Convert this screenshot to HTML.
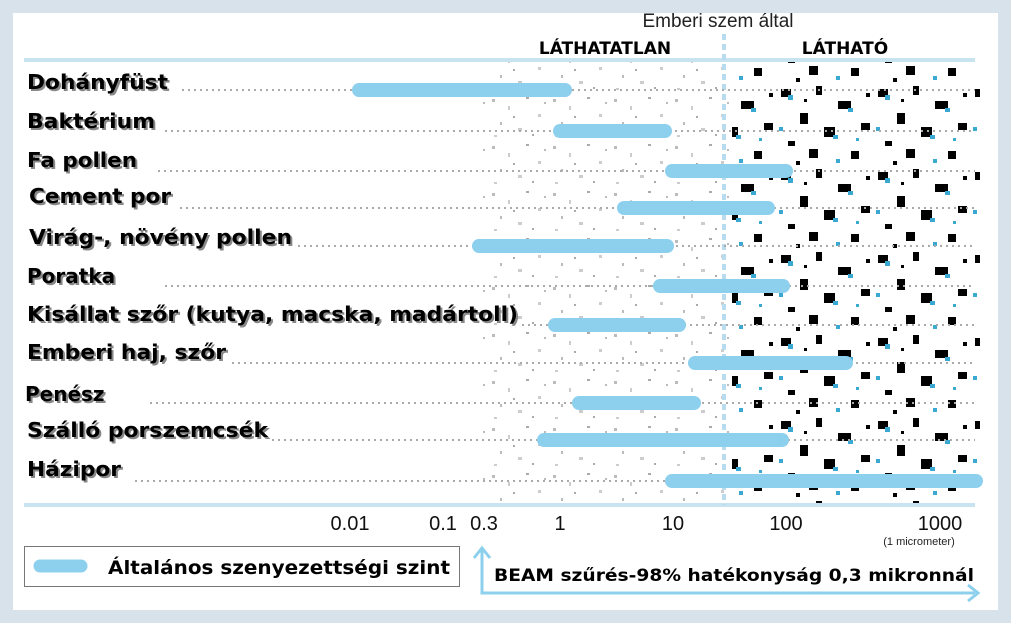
<!DOCTYPE html>
<html><head><meta charset="utf-8"><style>
html,body{margin:0;padding:0;background:#d8e2ea;}
svg{display:block;}
.lab{font-family:"DejaVu Sans",sans-serif;font-weight:bold;font-size:20px;fill:#000;}
.sh{font-family:"DejaVu Sans",sans-serif;font-weight:bold;font-size:20px;fill:#888;}
.tick{font-family:"Liberation Sans",sans-serif;font-size:20px;fill:#111;}
</style></head><body>
<svg width="1011" height="623" viewBox="0 0 1011 623" xmlns="http://www.w3.org/2000/svg">
<defs>
<pattern id="blk" width="97" height="83" patternUnits="userSpaceOnUse">
<rect x="5" y="6" width="10" height="8" fill="#000"/><rect x="12" y="12" width="5" height="5" fill="#3aa8d0"/>
<rect x="40" y="3" width="6" height="9" fill="#000"/><rect x="62" y="18" width="13" height="8" fill="#000"/>
<rect x="72" y="25" width="5" height="4" fill="#3aa8d0"/><rect x="24" y="30" width="8" height="11" fill="#000"/>
<rect x="85" y="40" width="9" height="7" fill="#000"/><rect x="48" y="44" width="11" height="10" fill="#000"/>
<rect x="57" y="52" width="5" height="4" fill="#3aa8d0"/><rect x="12" y="58" width="7" height="5" fill="#000"/>
<rect x="33" y="66" width="9" height="9" fill="#000"/><rect x="75" y="68" width="8" height="8" fill="#000"/>
<rect x="3" y="44" width="4" height="4" fill="#3aa8d0"/><rect x="90" y="10" width="4" height="4" fill="#000"/>
<rect x="60" y="76" width="4" height="4" fill="#3aa8d0"/><rect x="20" y="78" width="4" height="4" fill="#000"/>
<rect x="28" y="16" width="3" height="3" fill="#000"/><rect x="80" y="55" width="3" height="3" fill="#3aa8d0"/>
</pattern>
<pattern id="gry" width="61" height="47" patternUnits="userSpaceOnUse">
<rect x="4" y="5" width="3" height="3" fill="#bbb"/><rect x="20" y="12" width="2" height="4" fill="#ccc"/>
<rect x="38" y="3" width="3" height="2" fill="#aaa"/><rect x="50" y="20" width="3" height="3" fill="#ccc"/>
<rect x="12" y="28" width="2" height="3" fill="#bbb"/><rect x="30" y="34" width="4" height="3" fill="#ccc"/>
<rect x="44" y="40" width="2" height="2" fill="#aaa"/><rect x="6" y="41" width="3" height="2" fill="#ccc"/>
<rect x="56" y="8" width="2" height="2" fill="#bbb"/><rect x="25" y="22" width="2" height="2" fill="#aaa"/>
</pattern>
</defs>
<rect x="13" y="13" width="985" height="597" fill="#fff"/>
<rect x="480" y="62" width="250" height="442" fill="url(#gry)"/>
<rect x="732" y="62" width="248" height="442" fill="url(#blk)"/>
<line x1="24" y1="60" x2="975" y2="60" stroke="#c8e4f0" stroke-width="4"/>
<line x1="24" y1="505" x2="975" y2="505" stroke="#c8e4f0" stroke-width="4"/>
<line x1="724" y1="34" x2="724" y2="505" stroke="#b8dcee" stroke-width="4" stroke-dasharray="6,4"/>
<text x="718" y="27" text-anchor="middle" font-family="Liberation Sans,sans-serif" font-size="19" fill="#222">Emberi szem által</text>
<text x="605" y="54" text-anchor="middle" class="lab" style="font-size:17px">LÁTHATATLAN</text>
<text x="845" y="54" text-anchor="middle" class="lab" style="font-size:17px">LÁTHATÓ</text>
<g stroke="#aaa" stroke-width="2" stroke-dasharray="2,4">
<line x1="182" y1="90" x2="975" y2="90"/><line x1="165" y1="131" x2="975" y2="131"/>
<line x1="158" y1="171" x2="975" y2="171"/><line x1="180" y1="208" x2="975" y2="208"/>
<line x1="298" y1="246" x2="975" y2="246"/><line x1="165" y1="286" x2="975" y2="286"/>
<line x1="522" y1="325" x2="975" y2="325"/><line x1="232" y1="363" x2="975" y2="363"/>
<line x1="150" y1="403" x2="975" y2="403"/><line x1="272" y1="440" x2="975" y2="440"/>
<line x1="135" y1="481" x2="975" y2="481"/>
</g>
<g stroke="#8dd0ee" stroke-width="14" stroke-linecap="round">
<line x1="359" y1="90" x2="565" y2="90"/><line x1="560" y1="131" x2="665" y2="131"/>
<line x1="672" y1="171" x2="786" y2="171"/><line x1="624" y1="208" x2="768" y2="208"/>
<line x1="479" y1="246" x2="667" y2="246"/><line x1="660" y1="286" x2="783" y2="286"/>
<line x1="555" y1="325" x2="679" y2="325"/><line x1="695" y1="363" x2="846" y2="363"/>
<line x1="579" y1="403" x2="694" y2="403"/><line x1="544" y1="440" x2="782" y2="440"/>
<line x1="672" y1="481" x2="976" y2="481"/>
</g>
<g transform="translate(2,2)">
<text class="sh" x="27" y="89" textLength="141" lengthAdjust="spacingAndGlyphs">Dohányfüst</text>
<text class="sh" x="27" y="128" textLength="128" lengthAdjust="spacingAndGlyphs">Baktérium</text>
<text class="sh" x="27" y="167" textLength="110" lengthAdjust="spacingAndGlyphs">Fa pollen</text>
<text class="sh" x="29" y="203" textLength="142" lengthAdjust="spacingAndGlyphs">Cement por</text>
<text class="sh" x="29" y="244" textLength="263" lengthAdjust="spacingAndGlyphs">Virág-, növény pollen</text>
<text class="sh" x="27" y="283">Poratka</text>
<text class="sh" x="27" y="321" textLength="491" lengthAdjust="spacingAndGlyphs">Kisállat szőr (kutya, macska, madártoll)</text>
<text class="sh" x="27" y="359" textLength="199" lengthAdjust="spacingAndGlyphs">Emberi haj, szőr</text>
<text class="sh" x="25" y="401">Penész</text>
<text class="sh" x="27" y="437" textLength="241" lengthAdjust="spacingAndGlyphs">Szálló porszemcsék</text>
<text class="sh" x="27" y="476" textLength="94" lengthAdjust="spacingAndGlyphs">Házipor</text>
</g>
<text class="lab" x="27" y="89" textLength="141" lengthAdjust="spacingAndGlyphs">Dohányfüst</text>
<text class="lab" x="27" y="128" textLength="128" lengthAdjust="spacingAndGlyphs">Baktérium</text>
<text class="lab" x="27" y="167" textLength="110" lengthAdjust="spacingAndGlyphs">Fa pollen</text>
<text class="lab" x="29" y="203" textLength="142" lengthAdjust="spacingAndGlyphs">Cement por</text>
<text class="lab" x="29" y="244" textLength="263" lengthAdjust="spacingAndGlyphs">Virág-, növény pollen</text>
<text class="lab" x="27" y="283">Poratka</text>
<text class="lab" x="27" y="321" textLength="491" lengthAdjust="spacingAndGlyphs">Kisállat szőr (kutya, macska, madártoll)</text>
<text class="lab" x="27" y="359" textLength="199" lengthAdjust="spacingAndGlyphs">Emberi haj, szőr</text>
<text class="lab" x="25" y="401">Penész</text>
<text class="lab" x="27" y="437" textLength="241" lengthAdjust="spacingAndGlyphs">Szálló porszemcsék</text>
<text class="lab" x="27" y="476" textLength="94" lengthAdjust="spacingAndGlyphs">Házipor</text>
<g class="tick" text-anchor="middle">
<text x="350" y="530">0.01</text><text x="443" y="530">0.1</text><text x="484" y="530">0.3</text>
<text x="560" y="530">1</text><text x="673" y="530">10</text><text x="786" y="530">100</text>
<text x="940" y="530">1000</text>
</g>
<text x="919" y="545" text-anchor="middle" font-family="Liberation Sans,sans-serif" font-size="11" fill="#222">(1 micrometer)</text>
<rect x="24.5" y="546.5" width="435" height="40" fill="#fff" stroke="#777" stroke-width="1"/>
<line x1="40" y1="566" x2="81" y2="566" stroke="#8dd0ee" stroke-width="13" stroke-linecap="round"/>
<text class="lab" x="108" y="574" textLength="342" lengthAdjust="spacingAndGlyphs" style="font-size:19px">Általános szenyezettségi szint</text>
<g fill="none" stroke="#8dd0ee" stroke-width="3">
<polyline points="482,550 482,593 975,593"/>
<polyline points="474,558 482,548 490,558"/>
<polyline points="968,585 978,593 968,601"/>
</g>
<text class="lab" x="494" y="581" textLength="480" lengthAdjust="spacingAndGlyphs" style="font-size:17px">BEAM szűrés-98% hatékonyság 0,3 mikronnál</text>
</svg>
</body></html>
